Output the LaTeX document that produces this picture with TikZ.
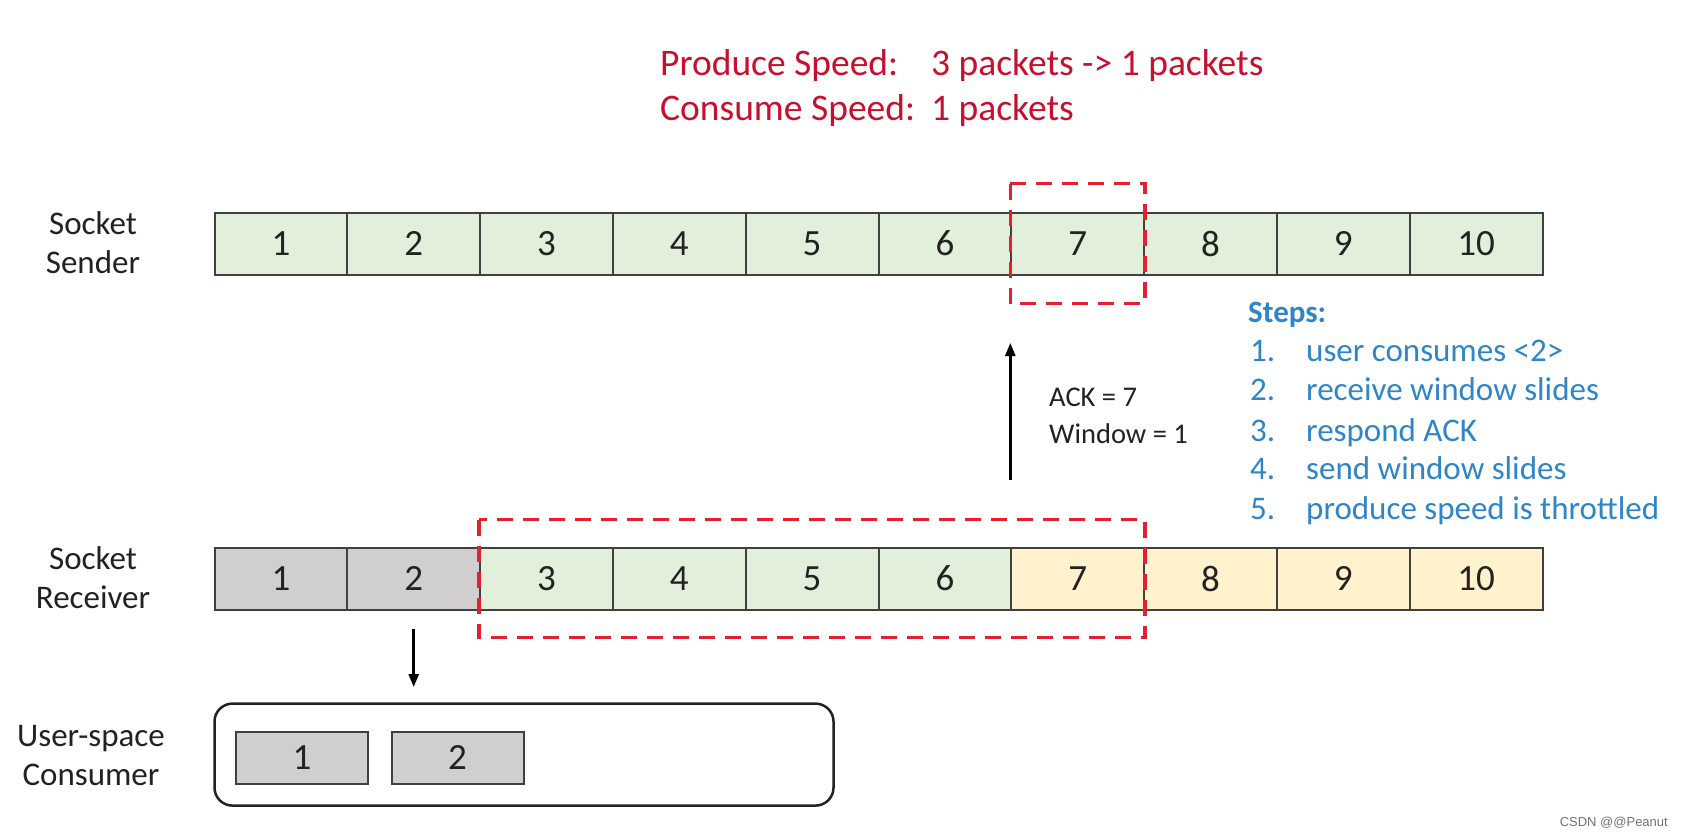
\documentclass[tikz,border=0pt]{standalone}
\usepackage{fontspec}
\setmainfont{Carlito}
\newfontfamily\wmfont{Liberation Sans}
\usetikzlibrary{arrows.meta}
\definecolor{cellgreen}{HTML}{E2EFDA}
\definecolor{cellgray}{HTML}{D0CECE}
\definecolor{cellyellow}{HTML}{FFF2CC}
\definecolor{cellline}{HTML}{404040}
\definecolor{winred}{HTML}{E5202E}
\definecolor{titlered}{HTML}{C8102E}
\definecolor{stepblue}{HTML}{2E86C8}
\definecolor{txt}{HTML}{222222}
\tikzset{
  cell/.style={draw=cellline, line width=2pt, minimum width=132.8pt, minimum height=62pt, inner sep=0pt, font=\fontsize{37}{42}\selectfont, text=txt},
  lbl/.style={align=center, font=\fontsize{33}{39}\selectfont, text=txt, inner sep=0pt},
  winbox/.style={draw=winred, line width=3.5pt, dash pattern=on 16pt off 10pt},
  arr/.style={line width=2.5pt, -{Triangle[length=13pt, width=10pt]}},
  title/.style={anchor=base west, font=\fontsize{37.5}{44}\selectfont, text=titlered, inner sep=0pt},
  steptxt/.style={anchor=base west, font=\fontsize{33}{38}\selectfont, text=stepblue, inner sep=0pt},
  acktxt/.style={anchor=base west, font=\fontsize{28.5}{33}\selectfont, text=txt, inner sep=0pt},
  ubox/.style={draw=cellline, line width=2pt, fill=cellgray, minimum width=132pt, minimum height=52pt, inner sep=0pt, font=\fontsize{37}{42}\selectfont, text=txt}
}
\begin{document}
\begin{tikzpicture}[x=1pt, y=-1pt]
\useasboundingbox[fill=white] (0,0) rectangle (1682,836);

% titles
\node[title] (t1) at (660,75) {Produce Speed:};
\node[title] (t2) at (931,75) {3 packets -> 1 packets};
\node[title] (t3) at (660,120) {Consume Speed:};
\node[title] (t4) at (931,120) {1 packets};

% sender row
\foreach \i in {1,...,10} {
  \node[cell, fill=cellgreen] (s\i) at ({214.5+(\i-0.5)*132.8},243.5) {\i};
}
% receiver row
\foreach \i in {1,2} {
  \node[cell, fill=cellgray] (r\i) at ({214.5+(\i-0.5)*132.8},578.5) {\i};
}
\foreach \i in {3,...,6} {
  \node[cell, fill=cellgreen] (r\i) at ({214.5+(\i-0.5)*132.8},578.5) {\i};
}
\foreach \i in {7,...,10} {
  \node[cell, fill=cellyellow] (r\i) at ({214.5+(\i-0.5)*132.8},578.5) {\i};
}

% labels
\node[lbl] (lsend) at (93,243) {Socket\\Sender};
\node[lbl] (lrecv) at (93,578) {Socket\\Receiver};
\node[lbl] (lcons) at (91,756) {User-space\\Consumer};

% window boxes
\draw[winbox] ([yshift=28pt]s7.north west) rectangle ([yshift=-28pt]s7.south east);
\draw[winbox] ([yshift=27pt]r3.north west) rectangle ([yshift=-27pt]r7.south east);

% consumer box
\node[draw=txt, line width=2.5pt, rounded corners=18pt, minimum width=619pt, minimum height=102pt] (cons) at (524,754.6) {};
\node[ubox] (u1) at (302,757.8) {1};
\node[ubox] (u2) at (457.5,757.8) {2};

% arrows
\coordinate (dnS) at ([yshift=-18pt]r2.south);
\coordinate (dnE) at (r2.south |- 0,687);
\draw[arr] (dnS) -- (dnE);
\coordinate (upS) at (s7.west |- 0,479.5);
\coordinate (upE) at (s7.west |- 0,343);
\draw[arr] (upS) -- (upE);

% ack text
\node[acktxt] (ack1) at (1049,406.5) {ACK = 7};
\node[acktxt] (ack2) at (1049,443) {Window = 1};

% steps
\node[steptxt, font=\fontsize{31}{36}\selectfont\bfseries] (st0) at (1248,322) {Steps:};
\node[steptxt] (n1) at (1250,361.5) {1.};
\node[steptxt] (x1) at (1306,361.5) {user consumes <2>};
\node[steptxt] (n2) at (1250,400) {2.};
\node[steptxt] (x2) at (1306,400) {receive window slides};
\node[steptxt] (n3) at (1250,441) {3.};
\node[steptxt] (x3) at (1306,441) {respond ACK};
\node[steptxt] (n4) at (1250,479.5) {4.};
\node[steptxt] (x4) at (1306,479.5) {send window slides};
\node[steptxt] (n5) at (1250,519) {5.};
\node[steptxt] (x5) at (1306,519) {produce speed is throttled};

% watermark
\node[anchor=base east, font=\wmfont\fontsize{13}{15}\selectfont, text=black!55, inner sep=0pt] (wm) at (1668,826) {CSDN @@Peanut};
\end{tikzpicture}
\end{document}
